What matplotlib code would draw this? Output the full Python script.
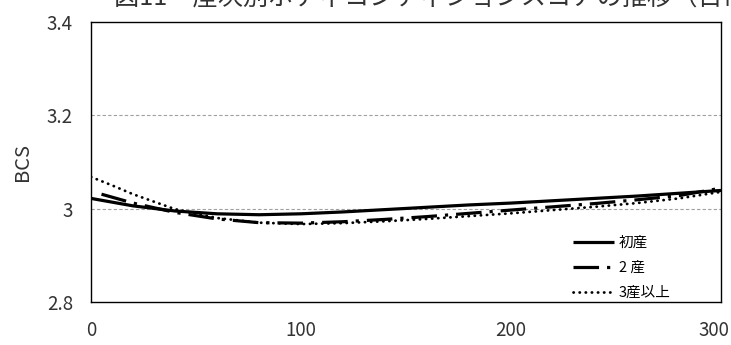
import matplotlib
matplotlib.use("Agg")
import matplotlib.pyplot as plt
import matplotlib.transforms as mtransforms

plt.rcParams['font.family'] = ['Noto Sans CJK JP', 'DejaVu Sans']

# Data
title = "図11　産次別ボディコンディションスコアの推移（日常"
series_names = ["初産", "2 産", "3産以上"]

days_1 = [0, 20, 40, 60, 80, 100, 120, 140, 160, 180, 200, 220, 240, 260, 280, 300]
bcs_1 = [3.022, 3.006, 2.995, 2.989, 2.987, 2.989, 2.993, 2.998, 3.003, 3.008,
         3.012, 3.017, 3.022, 3.027, 3.033, 3.039]

days_2 = [5, 20, 40, 60, 80, 100, 120, 140, 160, 180, 200, 220, 240, 260, 280, 300]
bcs_2 = [3.031, 3.012, 2.992, 2.978, 2.970, 2.969, 2.972, 2.977, 2.983, 2.990,
         2.997, 3.004, 3.011, 3.019, 3.028, 3.044]

days_3 = [0, 10, 20, 40, 60, 80, 100, 120, 140, 160, 180, 200, 220, 240, 260, 280, 300]
bcs_3 = [3.068, 3.050, 3.031, 2.999, 2.980, 2.970, 2.967, 2.969, 2.973, 2.978,
         2.984, 2.990, 2.997, 3.004, 3.012, 3.022, 3.036]

y_ticks = [2.8, 3.0, 3.2, 3.4]
y_tick_labels = ["2.8", "3", "3.2", "3.4"]
x_ticks = [0, 100, 200, 300]

fig = plt.figure(figsize=(7.31, 3.45), dpi=100)
ax = fig.add_axes([91 / 731, 43 / 345, 630 / 731, 280 / 345])

# Title runs off the top/right edge of the picture
fig.text(114 / 731, 1 - 5 / 345, title, fontsize=18.2, ha='left', va='baseline',
         color='#333333')

ax.plot(days_1, bcs_1, color='black', lw=2.3, solid_capstyle='butt', label=series_names[0])
l2, = ax.plot(days_2, bcs_2, color='black', lw=2.3, label=series_names[1])
l2.set_dashes((8, 2.5, 1, 2.5))
ax.plot(days_3, bcs_3, color='black', lw=2.0, linestyle=(0, (0.1, 2.1)),
        dash_capstyle='round', label=series_names[2])

ax.set_xlim(0, 300)
ax.set_ylim(2.8, 3.4)
ax.set_xticks(x_ticks)
ax.set_yticks(y_ticks)
ax.set_yticklabels(y_tick_labels)
ax.tick_params(length=0, labelsize=13.5, colors='#333333')
ax.tick_params(axis='y', pad=13)
ax.tick_params(axis='x', pad=13)

# nudge the last x label so it stays inside the picture
last = ax.get_xticklabels()[-1]
last.set_transform(last.get_transform() +
                   mtransforms.ScaledTranslation(-5 / 72, 0, fig.dpi_scale_trans))

for y in [3.0, 3.2]:
    ax.axhline(y, color='#a0a0a0', lw=0.8, linestyle=(0, (3, 2)), zorder=0)

for s in ax.spines.values():
    s.set_color('black')
    s.set_linewidth(1.0)

ax.set_ylabel("BCS", fontsize=14.5, color='#333333', labelpad=10)

leg = ax.legend(loc='lower left', bbox_to_anchor=(0.745, -0.04), frameon=False,
                prop={'size': 10.5},
                handlelength=2.8, handletextpad=0.3, labelspacing=0.75)

fig.savefig("out.png", dpi=100)
